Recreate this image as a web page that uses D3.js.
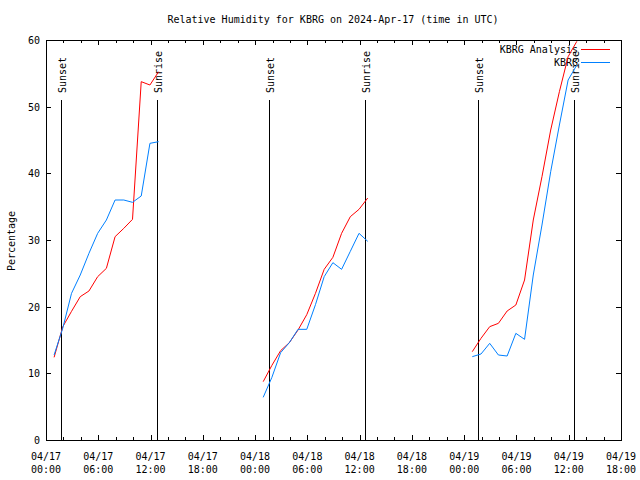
<!DOCTYPE html>
<html><head><meta charset="utf-8">
<script src="https://cdn.jsdelivr.net/npm/d3@7"></script>
<style>body{margin:0;background:#fff}svg{display:block}text{font-family:"DejaVu Sans Mono","Liberation Mono",monospace;font-size:10px;fill:#000}</style>
</head><body><svg id="c" width="640" height="480"></svg>
<script>
// hours since 2024-04-17 00:00 UTC
const hours1 = [0.93,1.93,2.93,3.93,4.93,5.93,6.93,7.93,8.93,9.93,10.93,11.93,12.93];
const analysis1 = [12.4,17.0,19.3,21.5,22.35,24.5,25.75,30.5,31.75,33.1,53.75,53.25,55.25];
const obs1 = [12.75,16.8,22.0,24.75,28.0,31.0,33.0,36.0,36.0,35.65,36.6,44.5,44.75];
const hours2 = [24.93,25.93,26.93,27.93,28.93,29.93,30.93,31.93,32.93,33.93,34.93,35.93,36.93];
const analysis2 = [8.75,11.2,13.4,14.6,16.5,18.8,22.0,25.6,27.4,31.0,33.5,34.6,36.3];
const obs2 = [6.4,9.4,13.1,14.6,16.6,16.6,20.3,24.5,26.6,25.6,28.3,31.0,29.8];
const hours3 = [48.93,49.93,50.93,51.93,52.93,53.93,54.93,55.93,56.93,57.93,58.93,59.93,60.93];
const analysis3 = [13.25,15.25,17.0,17.5,19.35,20.25,24.0,33.0,39.5,46.5,52.25,57.5,59.8];
const obs3 = [12.5,12.9,14.5,12.75,12.6,16.0,15.1,24.75,32.25,40.25,47.25,54.0,56.25];
const sunsetHours = [1.7,25.65,49.6];
const sunriseHours = [12.7,36.62,60.6];
const xMajor = [0,6,12,18,24,30,36,42,48,54,60,66];
const xDateLabels = ["04/17","04/17","04/17","04/17","04/18","04/18","04/18","04/18","04/19","04/19","04/19","04/19"];
const xTimeLabels = ["00:00","06:00","12:00","18:00","00:00","06:00","12:00","18:00","00:00","06:00","12:00","18:00"];
const yTicks = [0,10,20,30,40,50,60];
const seriesNames = ["KBRG Analysis","KBRG"];
const seriesColors = ["#ff0000","#0080ff"];

const svg = d3.select("#c");
const L=46, R=621, T=40, B=440;
const x = d3.scaleLinear().domain([0,66]).range([L,R]);
const y = d3.scaleLinear().domain([0,60]).range([B,T]);
const g = svg.append("g").attr("shape-rendering","crispEdges");

// title
svg.append("text").attr("x",333).attr("y",23).attr("text-anchor","middle")
  .text("Relative Humidity for KBRG on 2024-Apr-17 (time in UTC)");
// y label
svg.append("text").attr("transform","translate(15,241) rotate(-90)").attr("text-anchor","middle").text("Percentage");

// minor x ticks (every 2h)
const xMinor = d3.range(0,67,2).filter(h=>h%6!==0);
const tk = (x1,y1,x2,y2)=>g.append("line").attr("x1",x1).attr("y1",y1).attr("x2",x2).attr("y2",y2).attr("stroke","#000").attr("stroke-width",1);
xMinor.forEach(h=>{const px=Math.round(x(h))+0.5; tk(px,B,px,B-3); tk(px,T,px,T+3);});
xMajor.forEach((h,i)=>{const px=Math.round(x(h))+0.5; tk(px,B,px,B-5); tk(px,T,px,T+5);
  svg.append("text").attr("x",x(h)).attr("y",460).attr("text-anchor","middle").text(xDateLabels[i]);
  svg.append("text").attr("x",x(h)).attr("y",473).attr("text-anchor","middle").text(xTimeLabels[i]);
});
yTicks.forEach(v=>{const py=Math.round(y(v))+0.5; tk(L,py,L+5,py); tk(R,py,R-5,py);
  svg.append("text").attr("x",40).attr("y",y(v)+4).attr("text-anchor","end").text(v);
});

// sunset / sunrise
function event(h,label){
  const px=Math.round(x(h))+0.5;
  tk(px,100,px,B);
  svg.append("text").attr("transform",`translate(${px+4},93) rotate(-90)`).attr("text-anchor","start").text(label);
}
sunsetHours.forEach(h=>event(h,"Sunset"));
sunriseHours.forEach(h=>event(h,"Sunrise"));

// frame
g.append("rect").attr("x",L+0.5).attr("y",T+0.5).attr("width",R-L).attr("height",B-T).attr("fill","none").attr("stroke","#000");

// legend
seriesNames.forEach((n,i)=>{
  const ly=49+i*13;
  svg.append("text").attr("x",578).attr("y",ly+4).attr("text-anchor","end").text(n);
  g.append("line").attr("x1",581).attr("x2",610).attr("y1",ly+0.5).attr("y2",ly+0.5).attr("stroke",seriesColors[i]);
});

// data
const line = d3.line().x(d=>x(d[0])).y(d=>y(d[1]));
const groups = [[hours1,analysis1,obs1],[hours2,analysis2,obs2],[hours3,analysis3,obs3]];
groups.forEach(([h,a,o])=>{
  [a,o].forEach((vals,i)=>{
    svg.append("path").datum(h.map((t,k)=>[t,vals[k]])).attr("d",line)
      .attr("fill","none").attr("stroke",seriesColors[i]).attr("stroke-width",1);
  });
});
</script></body></html>
